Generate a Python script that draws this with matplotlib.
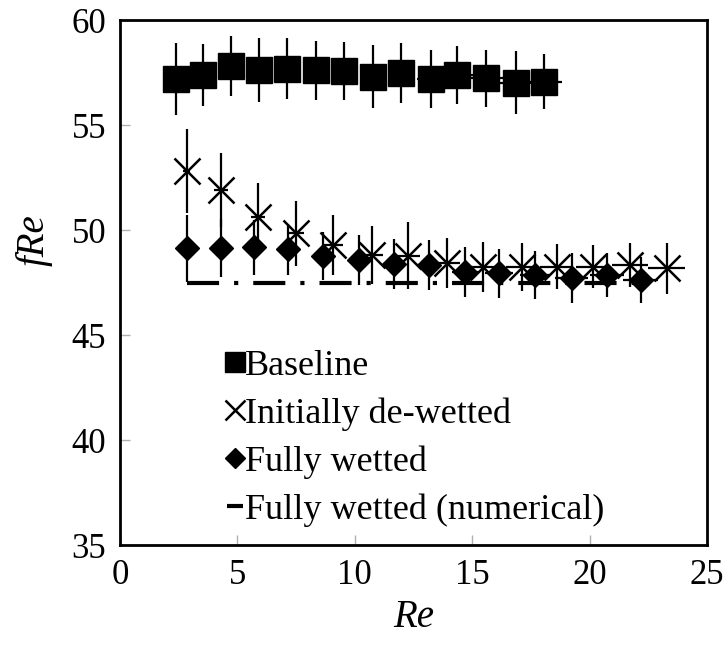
import matplotlib
matplotlib.use("Agg")
import matplotlib.pyplot as plt
from matplotlib.lines import Line2D

plt.rcParams['font.family'] = ['Liberation Serif', 'DejaVu Serif']

# Baseline
base_re = [2.37, 3.55, 4.73, 5.93, 7.13, 8.33, 9.54, 10.79, 11.97, 13.23, 14.37, 15.6, 16.87, 18.06]
base_fre = [57.19, 57.39, 57.81, 57.62, 57.68, 57.60, 57.56, 57.29, 57.48, 57.17, 57.38, 57.22, 57.01, 57.06]
base_yerr = [1.7, 1.49, 1.44, 1.54, 1.44, 1.4, 1.37, 1.5, 1.44, 1.38, 1.4, 1.35, 1.5, 1.32]
base_xerr = [0.2, 0.25, 0.3, 0.3, 0.35, 0.4, 0.45, 0.5, 0.55, 0.6, 0.7, 0.7, 0.72, 0.75]

# Initially de-wetted
dew_re = [2.84, 4.30, 5.89, 7.50, 9.09, 10.75, 12.28, 13.92, 15.47, 17.11, 18.6, 20.16, 21.72, 23.28]
dew_fre = [52.82, 51.9, 50.63, 49.84, 49.29, 48.81, 48.78, 48.41, 48.25, 48.25, 48.25, 48.25, 48.33, 48.17]
dew_yerr = [2.0, 1.78, 1.59, 1.56, 1.43, 1.38, 1.59, 1.19, 1.19, 1.14, 1.08, 1.03, 1.06, 1.22]
dew_xerr = [0.15, 0.3, 0.3, 0.35, 0.4, 0.45, 0.5, 0.55, 0.6, 0.65, 0.7, 0.72, 0.75, 0.78]

# Fully wetted
wet_re = [2.87, 4.30, 5.72, 7.17, 8.66, 10.19, 11.67, 13.17, 14.69, 16.14, 17.67, 19.24, 20.73, 22.18]
wet_fre = [49.13, 49.13, 49.18, 49.08, 48.76, 48.57, 48.38, 48.33, 48.02, 47.94, 47.86, 47.70, 47.86, 47.62]
wet_yerr = [1.6, 1.38, 1.3, 1.2, 1.14, 1.2, 1.2, 1.19, 1.19, 1.16, 1.14, 1.19, 1.03, 1.11]
wet_xerr = [0.15, 0.2, 0.25, 0.3, 0.35, 0.4, 0.45, 0.5, 0.55, 0.6, 0.65, 0.7, 0.72, 0.75]

# Fully wetted (numerical)
num_re = [2.85, 22.5]
num_fre = [47.5, 47.5]

labels = ["Baseline", "Initially de-wetted", "Fully wetted", "Fully wetted (numerical)"]
xticks = [0, 5, 10, 15, 20, 25]
yticks = [35, 40, 45, 50, 55, 60]

fig = plt.figure(figsize=(7.25, 6.48), dpi=100)
ax = fig.add_axes([120/725, 1-545/648, 587/725, 525/648])

ax.plot(num_re, num_fre, color='black', lw=3, linestyle=(0, (7.7, 3.6, 1, 3.6)),
        solid_capstyle='butt', dash_capstyle='butt', zorder=2)

ax.errorbar(base_re, base_fre, yerr=base_yerr, xerr=base_xerr, fmt='s', color='black',
            ms=18.5, ecolor='black', elinewidth=1.6, capsize=0, zorder=3)
ax.errorbar(dew_re, dew_fre, yerr=dew_yerr, xerr=dew_xerr, fmt='x', color='black',
            ms=19, mew=1.8, ecolor='black', elinewidth=1.6, capsize=0, zorder=3)
ax.errorbar(wet_re, wet_fre, yerr=wet_yerr, xerr=wet_xerr, fmt='D', color='black',
            ms=12.5, ecolor='black', elinewidth=1.6, capsize=0, zorder=3)

ax.set_xlim(0, 25)
ax.set_ylim(35, 60)
ax.set_xticks(xticks)
ax.set_yticks(yticks)
ax.tick_params(direction='in', length=7, width=1, color='#b0b0b0', labelsize=25, pad=10)
for s in ax.spines.values():
    s.set_linewidth(2)
    s.set_color('black')

ax.set_xlabel('Re', fontsize=28, style='italic', labelpad=5)
ax.set_ylabel('fRe', fontsize=28, style='italic')
ax.yaxis.set_label_coords(-0.115, 0.58)

handles = [
    Line2D([], [], marker='s', color='black', ls='none', ms=15),
    Line2D([], [], marker='x', color='black', ls='none', ms=15, mew=1.8),
    Line2D([], [], marker='D', color='black', ls='none', ms=10.5),
    Line2D([], [], color='black', lw=3, ls='-', solid_capstyle='butt'),
]
leg = ax.legend(handles, labels, loc='upper left', bbox_to_anchor=(0.182, 0.372),
                frameon=False, fontsize=26, handlelength=0.45, handletextpad=0.05,
                labelspacing=0.4, borderaxespad=0, numpoints=1, borderpad=0)

fig.savefig('out.png', dpi=100)
